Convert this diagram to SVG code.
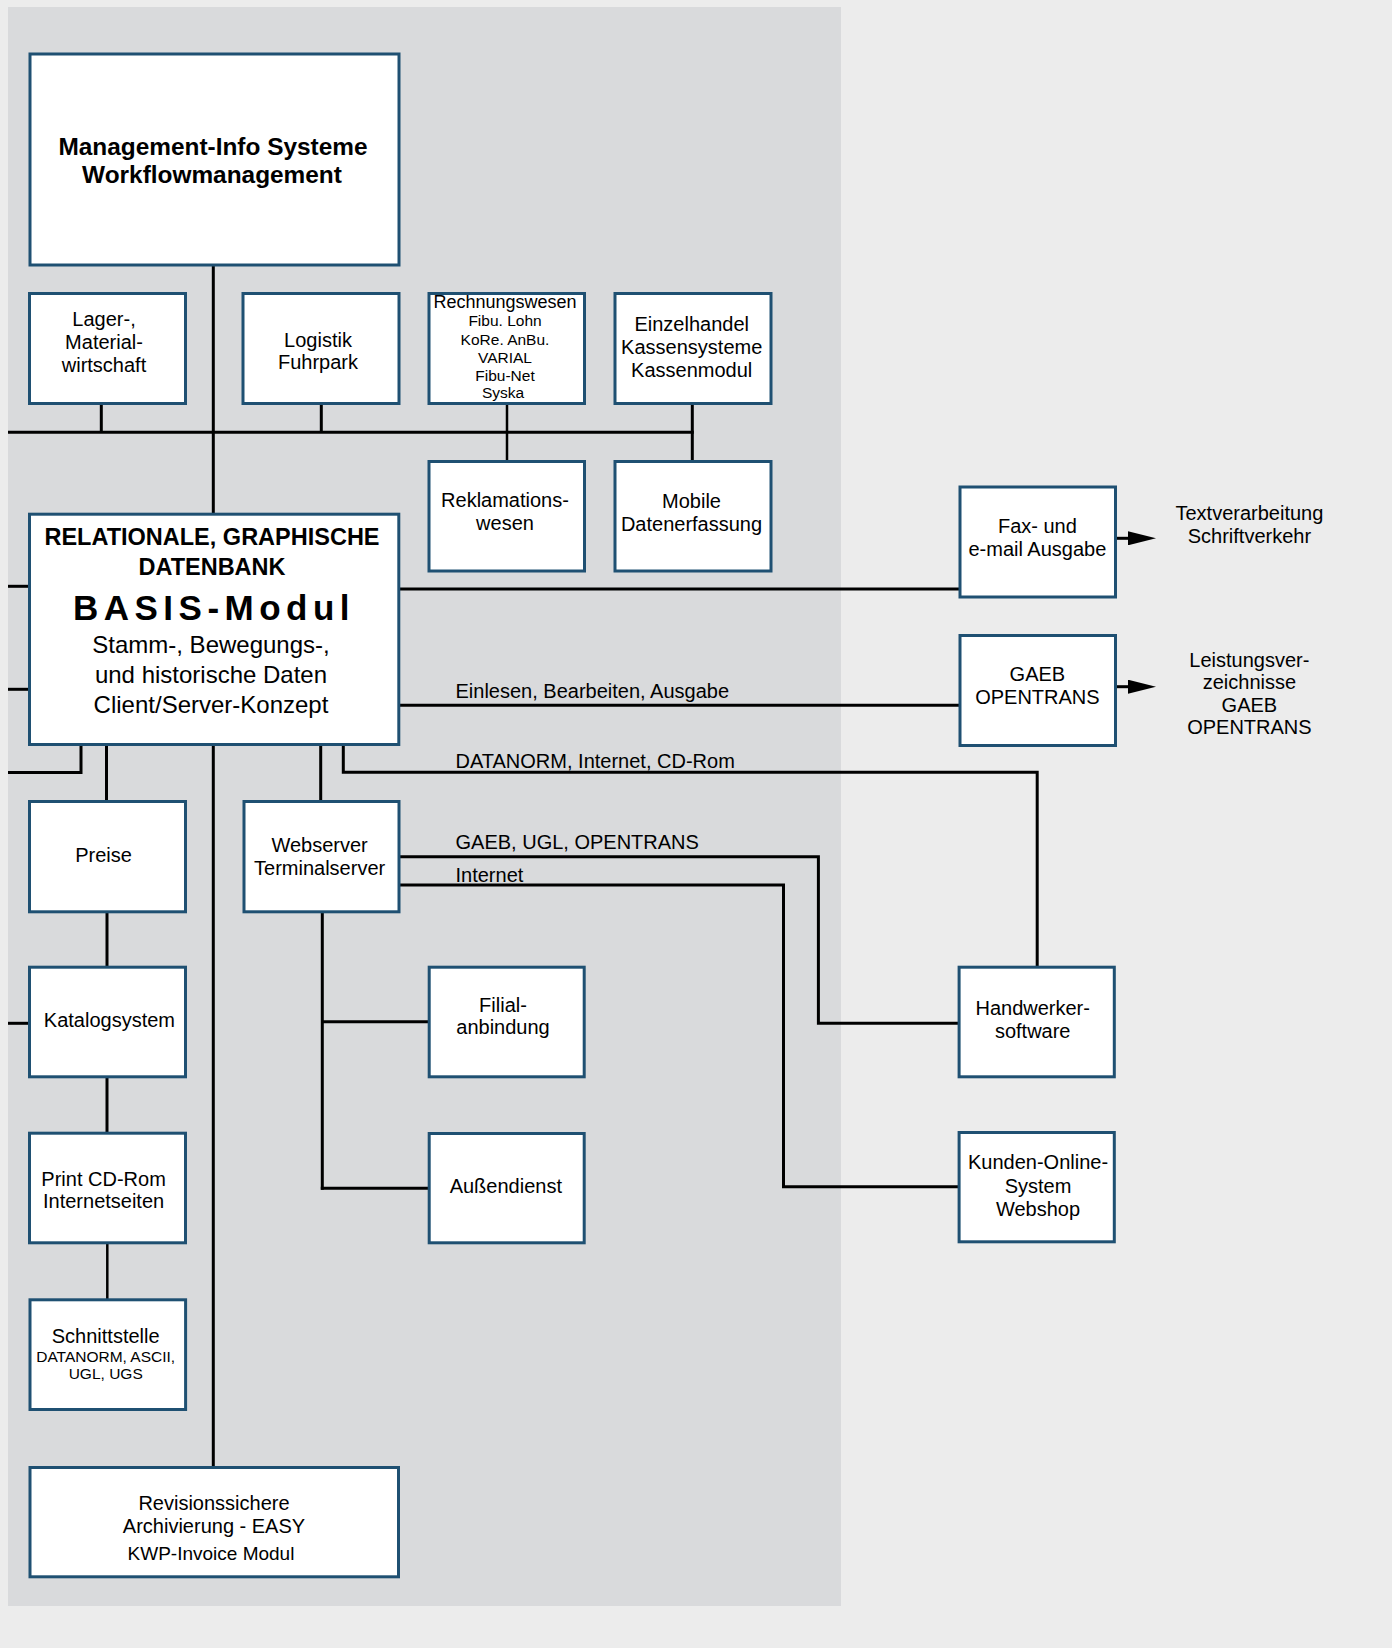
<svg xmlns="http://www.w3.org/2000/svg" width="1392" height="1648" viewBox="0 0 1392 1648">
<style>
.box{fill:#ffffff;stroke:#1f5072;stroke-width:3}
.ln{fill:none;stroke:#000;stroke-width:3;stroke-linecap:butt;stroke-linejoin:miter}
.thin{stroke-width:2.5}
text{font-family:"Liberation Sans",Arial,Helvetica,sans-serif;fill:#000;text-anchor:middle}
.t20{font-size:20px}
.t18{font-size:18px}
.t15{font-size:15px}
.t155{font-size:15.5px}
.t19{font-size:19px}
.b24{font-size:24.4px;font-weight:bold}
.b23{font-size:23.5px;font-weight:bold}
.big{font-size:35px;font-weight:bold;letter-spacing:5.5px}
.t24{font-size:24px}
.lbl{font-size:20px;text-anchor:start}
</style>
<defs>
<marker id="arr" viewBox="0 0 28 14" refX="0" refY="7" markerWidth="28" markerHeight="14" markerUnits="userSpaceOnUse" orient="auto">
<path d="M0,0 L28,7 L0,14 Z" fill="#000"/>
</marker>
</defs>
<rect x="0" y="0" width="1392" height="1648" fill="#ececec"/>
<rect x="8" y="7" width="833" height="1599" fill="#d9dadc"/>

<g id="connectors">
<line class="ln" x1="213.3" y1="266" x2="213.3" y2="514"/>
<line class="ln" x1="8" y1="432.3" x2="693.8" y2="432.3"/>
<line class="ln" x1="101.3" y1="405" x2="101.3" y2="432.3"/>
<line class="ln" x1="321.3" y1="405" x2="321.3" y2="432.3"/>
<line class="ln thin" x1="507" y1="405" x2="507" y2="461"/>
<line class="ln" x1="692.3" y1="405" x2="692.3" y2="461"/>
<line class="ln" x1="8" y1="586.3" x2="29" y2="586.3"/>
<line class="ln" x1="8" y1="689.3" x2="29" y2="689.3"/>
<line class="ln" x1="400" y1="589" x2="960" y2="589"/>
<line class="ln" x1="400" y1="705.3" x2="960" y2="705.3"/>
<line class="ln" x1="1117" y1="538.3" x2="1128" y2="538.3" marker-end="url(#arr)"/>
<line class="ln" x1="1117" y1="686.7" x2="1128" y2="686.7" marker-end="url(#arr)"/>
<polyline class="ln" points="81,746 81,772.5 8,772.5"/>
<line class="ln" x1="106.5" y1="746" x2="106.5" y2="801"/>
<line class="ln" x1="213.3" y1="746" x2="213.3" y2="1467"/>
<line class="ln" x1="320.7" y1="746" x2="320.7" y2="801"/>
<polyline class="ln" points="343.3,746 343.3,772.3 1037.2,772.3 1037.2,966"/>
<polyline class="ln" points="400,856.7 818.4,856.7 818.4,1023.3 959,1023.3"/>
<polyline class="ln" points="400,885 783.5,885 783.5,1186.7 959,1186.7"/>
<line class="ln" x1="322.3" y1="913" x2="322.3" y2="1189.8"/>
<line class="ln" x1="322.3" y1="1021.7" x2="429" y2="1021.7"/>
<line class="ln" x1="320.8" y1="1188.3" x2="429" y2="1188.3"/>
<line class="ln" x1="107" y1="913" x2="107" y2="967"/>
<line class="ln" x1="8" y1="1023.3" x2="29" y2="1023.3"/>
<line class="ln" x1="107" y1="1078" x2="107" y2="1133"/>
<line class="ln thin" x1="107.3" y1="1244" x2="107.3" y2="1300"/>
<text class="lbl" x="455.5" y="697.7">Einlesen, Bearbeiten, Ausgabe</text>
<text class="lbl" x="455.5" y="767.7">DATANORM, Internet, CD-Rom</text>
<text class="lbl" x="455.5" y="849.3">GAEB, UGL, OPENTRANS</text>
<text class="lbl" x="455.5" y="881.7">Internet</text>
</g>

<g id="mis">
<rect class="box" x="30" y="54" width="369" height="211"/>
<text class="b24" x="213" y="155">Management-Info Systeme</text>
<text class="b24" x="212" y="183">Workflowmanagement</text>
</g>
<g id="lager">
<rect class="box" x="29.5" y="293.5" width="156" height="110"/>
<text class="t20" x="104" y="326">Lager-,</text>
<text class="t20" x="104" y="349.3">Material-</text>
<text class="t20" x="104" y="372">wirtschaft</text>
</g>
<g id="logistik">
<rect class="box" x="243" y="293.5" width="156" height="110"/>
<text class="t20" x="318" y="346.7">Logistik</text>
<text class="t20" x="318" y="369.3">Fuhrpark</text>
</g>
<g id="rechnungswesen">
<rect class="box" x="429" y="293.5" width="155.5" height="110"/>
<text class="t18" x="505" y="307.5">Rechnungswesen</text>
<text class="t155" x="505" y="326">Fibu. Lohn</text>
<text class="t155" x="505" y="344.5">KoRe. AnBu.</text>
<text class="t155" x="505" y="362.5">VARIAL</text>
<text class="t155" x="505" y="380.5">Fibu-Net</text>
<text class="t155" x="503" y="397.5">Syska</text>
</g>
<g id="einzelhandel">
<rect class="box" x="615" y="293.5" width="156" height="110"/>
<text class="t20" x="691.7" y="331">Einzelhandel</text>
<text class="t20" x="691.7" y="354">Kassensysteme</text>
<text class="t20" x="691.7" y="376.7">Kassenmodul</text>
</g>
<g id="reklamation">
<rect class="box" x="429" y="461.5" width="155.5" height="109.5"/>
<text class="t20" x="505" y="507.3">Reklamations-</text>
<text class="t20" x="505" y="530">wesen</text>
</g>
<g id="mobile">
<rect class="box" x="615" y="461.5" width="156" height="109.5"/>
<text class="t20" x="691.5" y="508.3">Mobile</text>
<text class="t20" x="691.5" y="531">Datenerfassung</text>
</g>
<g id="basis">
<rect class="box" x="29.5" y="514.2" width="369.3" height="230.3"/>
<text class="b23" x="212" y="545">RELATIONALE, GRAPHISCHE</text>
<text class="b23" x="212" y="575">DATENBANK</text>
<text class="big" x="214" y="620">BASIS-Modul</text>
<text class="t24" x="211" y="653">Stamm-, Bewegungs-,</text>
<text class="t24" x="211" y="683">und historische Daten</text>
<text class="t24" x="211" y="713">Client/Server-Konzept</text>
</g>
<g id="fax">
<rect class="box" x="960" y="487" width="155.5" height="110"/>
<text class="t20" x="1037.4" y="533.3">Fax- und</text>
<text class="t20" x="1037.4" y="556">e-mail Ausgabe</text>
</g>
<g id="textverarbeitung">
<text class="t20" x="1249.4" y="520">Textverarbeitung</text>
<text class="t20" x="1249.4" y="542.7">Schriftverkehr</text>
</g>
<g id="gaeb">
<rect class="box" x="960" y="635.5" width="155.5" height="110"/>
<text class="t20" x="1037.4" y="681">GAEB</text>
<text class="t20" x="1037.4" y="704.3">OPENTRANS</text>
</g>
<g id="leistungsverzeichnisse">
<text class="t20" x="1249.4" y="666.7">Leistungsver-</text>
<text class="t20" x="1249.4" y="689">zeichnisse</text>
<text class="t20" x="1249.4" y="711.7">GAEB</text>
<text class="t20" x="1249.4" y="734.3">OPENTRANS</text>
</g>
<g id="preise">
<rect class="box" x="29.5" y="801.5" width="156" height="110.3"/>
<text class="t20" x="103.6" y="861.7">Preise</text>
</g>
<g id="webserver">
<rect class="box" x="244" y="801.5" width="155" height="110.3"/>
<text class="t20" x="319.6" y="851.7">Webserver</text>
<text class="t20" x="319.6" y="875">Terminalserver</text>
</g>
<g id="katalog">
<rect class="box" x="29.5" y="967.2" width="156" height="109.6"/>
<text class="t20" x="109.4" y="1026.7">Katalogsystem</text>
</g>
<g id="filial">
<rect class="box" x="429.2" y="967.2" width="155" height="109.6"/>
<text class="t20" x="503" y="1011.7">Filial-</text>
<text class="t20" x="503" y="1034">anbindung</text>
</g>
<g id="handwerker">
<rect class="box" x="959.1" y="967.2" width="155.2" height="109.6"/>
<text class="t20" x="1032.7" y="1015">Handwerker-</text>
<text class="t20" x="1032.7" y="1038.3">software</text>
</g>
<g id="print">
<rect class="box" x="29.5" y="1133.2" width="156" height="109.6"/>
<text class="t20" x="103.6" y="1186">Print CD-Rom</text>
<text class="t20" x="103.6" y="1208.3">Internetseiten</text>
</g>
<g id="aussendienst">
<rect class="box" x="429.2" y="1133.5" width="155" height="109.3"/>
<text class="t20" x="505.8" y="1192.7">Außendienst</text>
</g>
<g id="kunden">
<rect class="box" x="959.1" y="1132.5" width="155.2" height="109.3"/>
<text class="t20" x="1038" y="1169.3">Kunden-Online-</text>
<text class="t20" x="1038" y="1192.7">System</text>
<text class="t20" x="1038" y="1215.7">Webshop</text>
</g>
<g id="schnittstelle">
<rect class="box" x="30" y="1299.8" width="155.6" height="109.7"/>
<text class="t20" x="105.7" y="1343.3">Schnittstelle</text>
<text class="t155" x="105.7" y="1361.7">DATANORM, ASCII,</text>
<text class="t155" x="105.7" y="1379.3">UGL, UGS</text>
</g>
<g id="revision">
<rect class="box" x="30" y="1467.5" width="368.5" height="109.3"/>
<text class="t20" x="214" y="1510">Revisionssichere</text>
<text class="t20" x="214" y="1533.3">Archivierung - EASY</text>
<text class="t19" x="211" y="1560">KWP-Invoice Modul</text>
</g>
</svg>
